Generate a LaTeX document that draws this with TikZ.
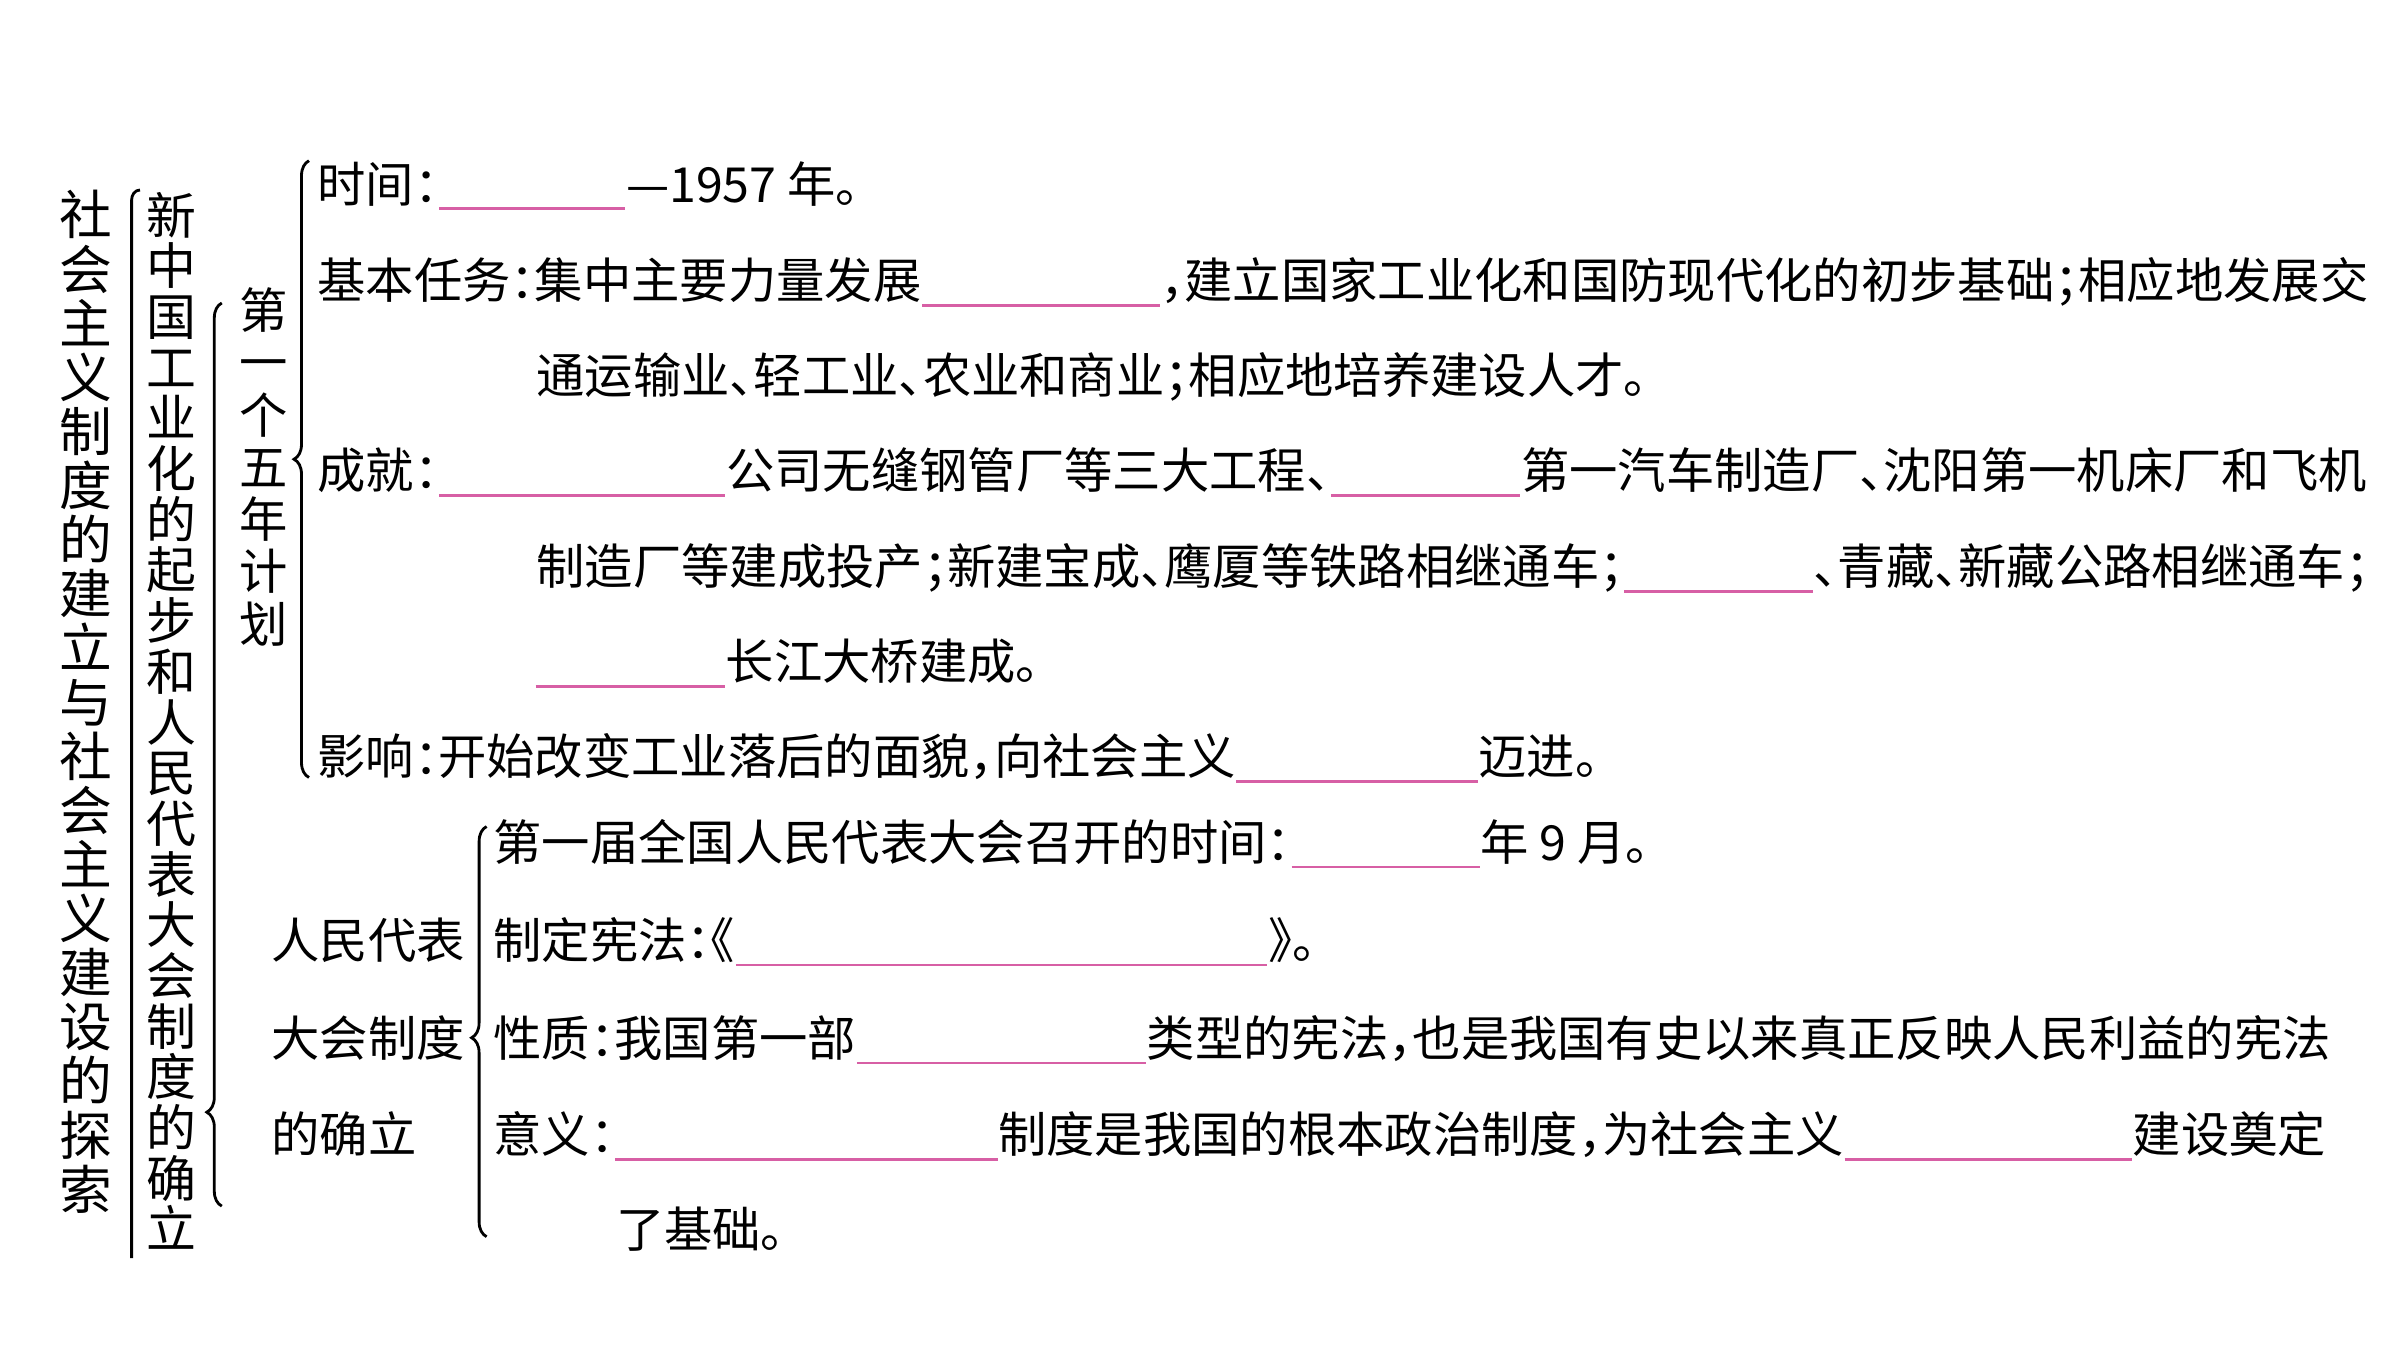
\documentclass[tikz,border=0pt]{standalone}
\usepackage{fontspec}
\newfontfamily\cjk[RawFeature=+halt]{Noto Sans CJK SC}
\usetikzlibrary{positioning, decorations.pathreplacing}
\definecolor{pinkline}{RGB}{215,95,165}
\makeatletter
\newcommand\vcol[1]{\@tfor\vch:=#1\do{\vch\par}}
\makeatother

\begin{document}
\begin{tikzpicture}[
    txt/.style={font=\cjk\fontsize{13.75pt}{16pt}\selectfont, inner sep=0pt,
                text height=0.43cm, text depth=0.06cm, anchor=west},
    blank/.style={txt, minimum width=#1},
    uline/.style={pinkline, line width=0.8pt},
    col/.style={inner sep=0pt, text width=0.6cm, align=center},
    brc/.style={decorate, decoration={brace, amplitude=0.15cm, aspect=#1}, line width=0.8pt},
]
\useasboundingbox (0,0) rectangle (24,13.5);

% Vertical titles
\node[col, font=\cjk\fontsize{15pt}{15.4pt}\selectfont] (title) at (0.857,6.482)
    {\vcol{社会主义制度的建立与社会主义建设的探索}};
\node[col, font=\cjk\fontsize{14.2pt}{14.42pt}\selectfont] (sub) at (1.714,6.291)
    {\vcol{新中国工业化的起步和人民代表大会制度的确立}};
\node[col, font=\cjk\fontsize{13.75pt}{14.88pt}\selectfont] (plan) at (2.633,8.832)
    {\vcol{第一个五年计划}};

% Braces
\draw[line width=0.8pt] (1.40,11.60) to[out=180, in=90] (1.316,11.50) -- (1.316,0.918);
\draw[brc=0.104] (2.218,1.439) -- (2.218,10.47);
\draw[brc=0.516] (3.09,5.725) -- (3.09,11.893);
\draw[brc=0.485] (4.866,1.133) -- (4.866,5.235);

% First five-year plan
\node[txt] (t1a) at (3.168,11.663) {时间：};
\node[blank=1.85cm, right=0pt of t1a] (b1) {};
\node[txt, right=0pt of b1] (t1b) {—1957 年。};

\node[txt] (t2a) at (3.168,10.699) {基本任务：集中主要力量发展};
\node[blank=2.36cm, right=0pt of t2a] (b2) {};
\node[txt, right=0pt of b2] (t2b) {，建立国家工业化和国防现代化的初步基础；相应地发展交};
\node[txt] (t3) at (5.357,9.750) {通运输业、轻工业、农业和商业；相应地培养建设人才。};

\node[txt] (t4a) at (3.168,8.801) {成就：};
\node[blank=2.85cm, right=0pt of t4a] (b4a) {};
\node[txt, right=0pt of b4a] (t4b) {公司无缝钢管厂等三大工程、};
\node[blank=1.88cm, right=0pt of t4b] (b4b) {};
\node[txt, right=0pt of b4b] (t4c) {第一汽车制造厂、沈阳第一机床厂和飞机};
\node[txt] (t5a) at (5.357,7.837) {制造厂等建成投产；新建宝成、鹰厦等铁路相继通车；};
\node[blank=1.87cm, right=0pt of t5a] (b5) {};
\node[txt, right=0pt of b5] (t5b) {、青藏、新藏公路相继通车；};
\node[blank=1.88cm] (b6) at (5.357,6.888) {};
\node[txt, right=0pt of b6] (t6) {长江大桥建成。};

\node[txt] (t7a) at (3.168,5.939) {影响：开始改变工业落后的面貌，向社会主义};
\node[blank=2.40cm, right=0pt of t7a] (b7) {};
\node[txt, right=0pt of b7] (t7b) {迈进。};

% People's congress
\node[txt] (pc1) at (2.709,4.102) {人民代表};
\node[txt] (pc2) at (2.709,3.123) {大会制度};
\node[txt] (pc3) at (2.709,2.158) {的确立};

\node[txt] (t8a) at (4.929,5.082) {第一届全国人民代表大会召开的时间：};
\node[blank=1.87cm, right=0pt of t8a] (b8) {};
\node[txt, right=0pt of b8] (t8b) {年 9 月。};

\node[txt] (t9a) at (4.929,4.102) {制定宪法：《};
\node[blank=5.30cm, right=0pt of t9a] (b9) {};
\node[txt, right=0pt of b9] (t9b) {》。};

\node[txt] (t10a) at (4.929,3.123) {性质：我国第一部};
\node[blank=2.88cm, right=0pt of t10a] (b10) {};
\node[txt, right=0pt of b10] (t10b) {类型的宪法，也是我国有史以来真正反映人民利益的宪法};

\node[txt] (t11a) at (4.929,2.158) {意义：};
\node[blank=3.81cm, right=0pt of t11a] (b11a) {};
\node[txt, right=0pt of b11a] (t11b) {制度是我国的根本政治制度，为社会主义};
\node[blank=2.86cm, right=0pt of t11b] (b11b) {};
\node[txt, right=0pt of b11b] (t11c) {建设奠定};
\node[txt] (t12) at (6.153,1.209) {了基础。};

% Blanks
\foreach \b in {b1,b2,b4a,b4b,b5,b6,b7,b8,b9,b10,b11a,b11b}
    \draw[uline] (\b.south west) -- (\b.south east);

\end{tikzpicture}
\end{document}
